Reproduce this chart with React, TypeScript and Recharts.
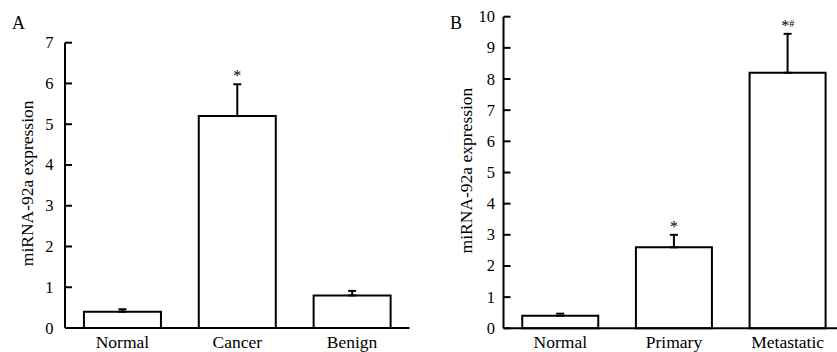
import React from 'react';
import { ComposedChart, Bar, XAxis, YAxis, ErrorBar, Scatter, Label } from 'recharts';

const FONT = '"Liberation Serif", "DejaVu Serif", serif';

const categoriesA = ['Normal', 'Cancer', 'Benign'];
const meanA = [0.4, 5.2, 0.8];
const errA = [0.06, 0.78, 0.11];
const sigA = ['', '*', ''];
const ticksA = [0, 1, 2, 3, 4, 5, 6, 7];

const categoriesB = ['Normal', 'Primary', 'Metastatic'];
const meanB = [0.4, 2.6, 8.2];
const errB = [0.07, 0.4, 1.25];
const sigB = ['', '*', '*#'];
const ticksB = [0, 1, 2, 3, 4, 5, 6, 7, 8, 9, 10];

const yLabel = 'miRNA-92a expression';

function build(cats: string[], means: number[], errs: number[], sigs: string[]) {
  return cats.map((c, i) => ({
    name: c,
    mean: means[i],
    err: [0, errs[i]],
    errTop: means[i] + errs[i],
    sig: sigs[i],
  }));
}

const dataA = build(categoriesA, meanA, errA, sigA);
const dataB = build(categoriesB, meanB, errB, sigB);

const textStyle = { fontFamily: FONT };

const makeYTick = (gap: number) => (props: any) => {
  const { x, y, payload } = props;
  return (
    <g>
      <line x1={x} x2={x + 7} y1={y} y2={y} stroke="#000" strokeWidth={2} />
      <text
        x={x - gap}
        y={y}
        textAnchor="end"
        dominantBaseline="central"
        fontSize={16.5}
        style={textStyle}
        fill="#000"
      >
        {payload.value}
      </text>
    </g>
  );
};

const makeXTick = (props: any) => {
  const { x, y, payload } = props;
  return (
    <text x={x} y={y + 20} textAnchor="middle" fontSize={17.5} style={textStyle} fill="#000">
      {payload.value}
    </text>
  );
};

const StarShape = (props: any) => {
  const { cx, cy, payload } = props;
  if (!payload || !payload.sig) return <g />;
  const s: string = payload.sig;
  return (
    <text x={cx} y={cy - 3} textAnchor="middle" fontSize={16} style={textStyle} fill="#000">
      {s[0]}
      {s.length > 1 ? (
        <tspan fontSize={10} dy={-4}>
          {s.slice(1)}
        </tspan>
      ) : null}
    </text>
  );
};

const YLabelContent = (props: any) => {
  const vb = props.viewBox || { x: 0, y: 0, width: 0, height: 0 };
  const x = vb.x + 22;
  const y = vb.y + vb.height / 2 - 2;
  return (
    <text
      x={x}
      y={y}
      transform={`rotate(-90, ${x}, ${y})`}
      textAnchor="middle"
      dominantBaseline="central"
      fontSize={17.5}
      style={textStyle}
      fill="#000"
    >
      {yLabel}
    </text>
  );
};

const axisStyle = { stroke: '#000', strokeWidth: 2 };

function Panel(props: {
  data: any[];
  width: number;
  margin: any;
  xHeight: number;
  domain: [number, number];
  ticks: number[];
  gap: number;
}) {
  const { data, width, margin, xHeight, domain, ticks, gap } = props;
  return (
    <ComposedChart width={width} height={352} data={data} margin={margin} barCategoryGap="16.5%">
      <XAxis
        dataKey="name"
        type="category"
        axisLine={axisStyle}
        tickLine={false}
        tickSize={0}
        tickMargin={0}
        height={xHeight}
        tick={makeXTick}
        interval={0}
      />
      <YAxis
        type="number"
        domain={domain}
        ticks={ticks}
        interval={0}
        width={60}
        axisLine={axisStyle}
        tickLine={false}
        tickSize={0}
        tickMargin={0}
        tick={makeYTick(gap)}
      >
        <Label content={YLabelContent} />
      </YAxis>
      <Bar dataKey="mean" fill="#fff" stroke="#000" strokeWidth={2} isAnimationActive={false}>
        <ErrorBar dataKey="err" width={4} stroke="#000" strokeWidth={2} direction="y" />
      </Bar>
      <Scatter dataKey="errTop" shape={StarShape} isAnimationActive={false} />
    </ComposedChart>
  );
}

export default function App() {
  return (
    <div
      style={{
        position: 'fixed',
        left: 0,
        top: 0,
        width: 837,
        height: 352,
        overflow: 'hidden',
        background: '#fff',
        fontFamily: FONT,
      }}
    >
      <div style={{ position: 'absolute', left: 0, top: 0 }}>
        <Panel
          data={dataA}
          width={420}
          margin={{ top: 42.7, right: 10.5, bottom: 0, left: 5 }}
          xHeight={24}
          domain={[0, 7]}
          ticks={ticksA}
          gap={11.5}
        />
      </div>
      <div style={{ position: 'absolute', left: 420, top: 0 }}>
        <Panel
          data={dataB}
          width={430}
          margin={{ top: 16.7, right: 5.5, bottom: 0, left: 23.5 }}
          xHeight={23.7}
          domain={[0, 10]}
          ticks={ticksB}
          gap={8.5}
        />
      </div>
      <div style={{ position: 'absolute', left: 12, top: 11, fontSize: 18, lineHeight: '24px', color: '#000' }}>A</div>
      <div style={{ position: 'absolute', left: 450, top: 11, fontSize: 18, lineHeight: '24px', color: '#000' }}>B</div>
    </div>
  );
}
